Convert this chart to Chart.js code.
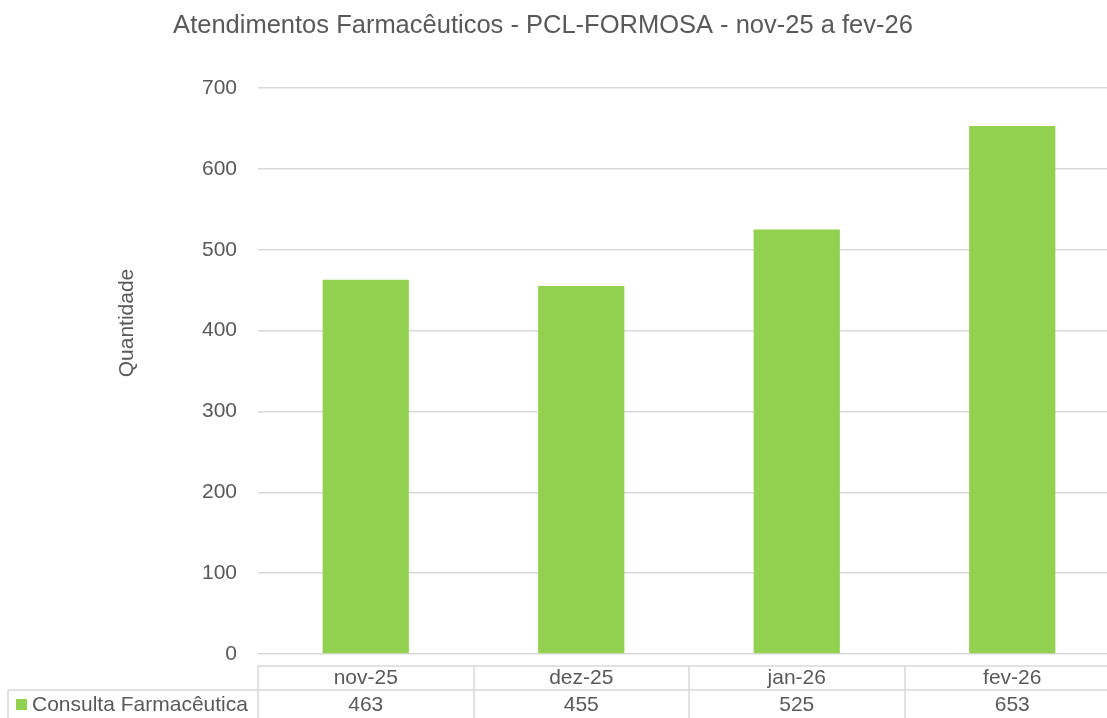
<!DOCTYPE html>
<html>
<head>
<meta charset="utf-8">
<script src="https://cdn.jsdelivr.net/npm/chart.js@4.4.0/dist/chart.umd.min.js"></script>
<style>
  html, body { margin: 0; padding: 0; background: #fff; overflow: hidden; }
  #wrap { width: 1130px; height: 730px; }
</style>
</head>
<body>
<div id="wrap"><canvas id="chart" width="1130" height="730"></canvas></div>
<script>
const months = ['nov-25', 'dez-25', 'jan-26', 'fev-26'];
const consultas = [463, 455, 525, 653];
const seriesName = 'Consulta Farmacêutica';
const chartTitle = 'Atendimentos Farmacêuticos - PCL-FORMOSA - nov-25 a fev-26';
const axisTitle = 'Quantidade';

const green = '#92D050';
const textColor = '#595959';
const lineColor = '#D9D9D9';
const family = '"Liberation Sans", Arial, sans-serif';
const font = '21px ' + family;

// title, axis title and the data table underneath the bars
const tablePlugin = {
    id: 'tablePlugin',
    afterDraw(chart) {
        const ctx = chart.ctx;
        const area = chart.chartArea;
        const x = chart.scales.x;
        const catW = (area.right - area.left) / months.length;
        const top = area.bottom + 12;
        const mid = top + 24;
        const bottom = chart.height;

        ctx.save();
        ctx.fillStyle = textColor;
        ctx.textAlign = 'center';
        ctx.font = '25.5px ' + family;
        ctx.textBaseline = 'alphabetic';
        ctx.fillText(chartTitle, 543, 33);

        ctx.font = font;
        ctx.textBaseline = 'middle';
        ctx.save();
        ctx.translate(127, 323);
        ctx.rotate(-Math.PI / 2);
        ctx.fillText(axisTitle, 0, 0);
        ctx.restore();

        ctx.strokeStyle = lineColor;
        ctx.lineWidth = 1.5;
        ctx.beginPath();
        ctx.moveTo(area.left, top);
        ctx.lineTo(area.right, top);
        ctx.moveTo(8, mid);
        ctx.lineTo(area.right, mid);
        ctx.moveTo(8, mid);
        ctx.lineTo(8, bottom);
        for (let i = 0; i <= months.length; i++) {
            const lx = Math.round(area.left + i * catW);
            ctx.moveTo(lx, top);
            ctx.lineTo(lx, bottom);
        }
        ctx.stroke();

        months.forEach((m, i) => {
            const cx = x.getPixelForValue(i);
            ctx.fillText(m, cx, top + 12.5);
            ctx.fillText(String(consultas[i]), cx, mid + 15);
        });

        ctx.fillStyle = green;
        ctx.fillRect(16, mid + 9, 11, 11);
        ctx.fillStyle = textColor;
        ctx.textAlign = 'left';
        ctx.fillText(seriesName, 32, mid + 15);
        ctx.restore();
    }
};

new Chart(document.getElementById('chart'), {
    type: 'bar',
    data: {
        labels: months,
        datasets: [{
            label: seriesName,
            data: consultas,
            backgroundColor: green,
            borderWidth: 0,
            barPercentage: 0.4,
            categoryPercentage: 1
        }]
    },
    options: {
        responsive: false,
        animation: false,
        devicePixelRatio: 1,
        layout: { padding: { left: 0, right: 10, top: 88, bottom: 76 } },
        plugins: {
            legend: { display: false },
            title: { display: false },
            tooltip: { enabled: false }
        },
        scales: {
            x: { display: false },
            y: {
                min: 0,
                max: 700,
                afterFit(scale) { scale.width = 258; },
                border: { display: false },
                grid: { color: lineColor, lineWidth: 1.5, drawTicks: false },
                ticks: {
                    stepSize: 100,
                    padding: 21,
                    color: textColor,
                    font: { family: family, size: 21 }
                }
            }
        }
    },
    plugins: [tablePlugin]
});
</script>
</body>
</html>
